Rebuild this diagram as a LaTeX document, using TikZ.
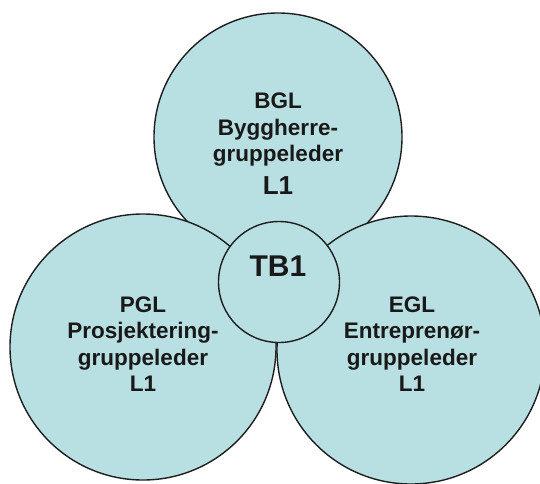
\documentclass[tikz,border=0pt]{standalone}
\usepackage{fontspec}
\setmainfont{Liberation Sans}
\definecolor{discfill}{RGB}{184,223,226}
\definecolor{discline}{RGB}{30,30,30}
\tikzset{
  disc/.style={circle, draw=discline, line width=1.4pt, fill=discfill, inner sep=0pt},
  lbl/.style={align=center, font=\bfseries\fontsize{22.5}{26.5}\selectfont, text=black!90},
  biglbl/.style={font=\bfseries\fontsize{26}{28}\selectfont, text=black!90},
  hublbl/.style={font=\bfseries\fontsize{30}{32}\selectfont, text=black!90}
}
\begin{document}
\begin{tikzpicture}[x=1pt,y=-1pt]
  \useasboundingbox (0,0) rectangle (540,483);
  % the three group circles and the shared core
  \node[disc, minimum size=248pt] (bgl) at (278,137) {};
  \node[disc, minimum size=266pt] (pgl) at (143,347) {};
  \node[disc, minimum size=268pt] (egl) at (411,350) {};
  \node[disc, minimum size=121pt] (tb) at (279,282) {};
  % labels
  \node[lbl] (bgltxt) at (278,130) {BGL\\Byggherre-\\gruppeleder};
  \node[biglbl] (bglnum) at (278,186) {L1};
  \node[hublbl] (tbtxt) at (278,266) {TB1};
  \node[lbl] (pgltxt) at (143,344) {PGL\\Prosjektering-\\gruppeleder\\L1};
  \node[lbl] (egltxt) at (412,344) {EGL\\Entreprenør-\\gruppeleder\\L1};
\end{tikzpicture}
\end{document}
